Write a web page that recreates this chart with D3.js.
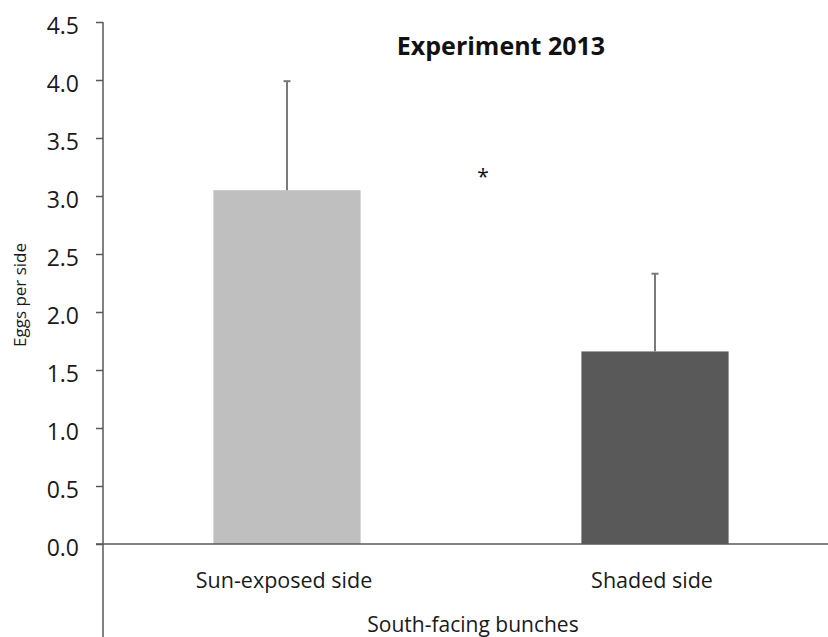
<!DOCTYPE html>
<html>
<head>
<meta charset="utf-8">
<script src="https://cdn.jsdelivr.net/npm/d3@7"></script>
<style>
  html, body { margin: 0; padding: 0; background: #fff; }
  svg { display: block; font-family: "Open Sans", sans-serif; }
</style>
</head>
<body>
<svg id="chart" width="828" height="637"></svg>
<script>
// Eggs laid per bunch side, experiment 2013
const categories = ["Sun-exposed side", "Shaded side"];
const means = [3.05, 1.66];
const errors = [0.94, 0.67];
const barColors = ["#bfbfbf", "#595959"];
const yTicks = [0, 0.5, 1.0, 1.5, 2.0, 2.5, 3.0, 3.5, 4.0, 4.5];

const svg = d3.select("#chart");
const plotLeft = 103, plotRight = 839, plotTop = 22, plotBottom = 544;

const x = d3.scaleBand()
  .domain(categories)
  .range([plotLeft, plotRight])
  .paddingInner(0.6)
  .paddingOuter(0.3);

const y = d3.scaleLinear().domain([0, 4.5]).range([plotBottom, plotTop]);

// bars
svg.selectAll("rect.bar")
  .data(categories)
  .join("rect")
  .attr("class", "bar")
  .attr("x", d => x(d))
  .attr("width", x.bandwidth())
  .attr("y", (d, i) => y(means[i]))
  .attr("height", (d, i) => y(0) - y(means[i]))
  .attr("fill", (d, i) => barColors[i]);

// upper error bars
const errG = svg.append("g").attr("stroke", "#7a7a7a").attr("stroke-width", 2);
categories.forEach((c, i) => {
  const cx = x(c) + x.bandwidth() / 2;
  errG.append("line")
    .attr("x1", cx).attr("x2", cx)
    .attr("y1", y(means[i])).attr("y2", y(means[i] + errors[i]));
  errG.append("line")
    .attr("x1", cx - 3.5).attr("x2", cx + 3.5)
    .attr("y1", y(means[i] + errors[i])).attr("y2", y(means[i] + errors[i]));
});

// y axis
const yAxis = d3.axisLeft(y)
  .tickValues(yTicks)
  .tickFormat(d3.format(".1f"))
  .tickSize(7)
  .tickPadding(17);
const gy = svg.append("g").attr("transform", `translate(${plotLeft},0)`).call(yAxis);
gy.select(".domain").remove();
gy.selectAll(".tick line").attr("stroke", "#595959").attr("stroke-width", 1.5);
gy.selectAll(".tick text")
  .attr("fill", "#1a1a1a")
  .attr("font-family", "Open Sans, sans-serif")
  .attr("font-size", 23)
  .attr("dy", "0.5em");
svg.append("line")
  .attr("x1", plotLeft).attr("x2", plotLeft)
  .attr("y1", plotTop).attr("y2", 637)
  .attr("stroke", "#595959").attr("stroke-width", 1.5);

// x axis baseline
svg.append("line")
  .attr("x1", plotLeft - 7).attr("x2", 828)
  .attr("y1", y(0)).attr("y2", y(0))
  .attr("stroke", "#595959").attr("stroke-width", 1.5);

// category labels
svg.selectAll("text.cat")
  .data(categories)
  .join("text")
  .attr("class", "cat")
  .attr("x", d => x(d) + x.bandwidth() / 2 - 3)
  .attr("y", 588)
  .attr("text-anchor", "middle")
  .attr("fill", "#1a1a1a")
  .attr("font-size", 21.5)
  .text(d => d);

// axis titles
svg.append("text")
  .attr("x", (plotLeft + plotRight) / 2 + 2)
  .attr("y", 632)
  .attr("text-anchor", "middle")
  .attr("fill", "#1a1a1a")
  .attr("font-size", 21)
  .text("South-facing bunches");

svg.append("text")
  .attr("transform", `translate(26,${(243 + 347) / 2}) rotate(-90)`)
  .attr("text-anchor", "middle")
  .attr("fill", "#1a1a1a")
  .attr("font-size", 17)
  .text("Eggs per side");

// title and significance mark
svg.append("text")
  .attr("x", 501)
  .attr("y", 55)
  .attr("text-anchor", "middle")
  .attr("fill", "#111")
  .attr("font-size", 25)
  .attr("font-weight", "bold")
  .text("Experiment 2013");

svg.append("text")
  .attr("x", 483)
  .attr("y", 184)
  .attr("text-anchor", "middle")
  .attr("fill", "#111")
  .attr("font-size", 21)
  .text("*");
</script>
</body>
</html>
